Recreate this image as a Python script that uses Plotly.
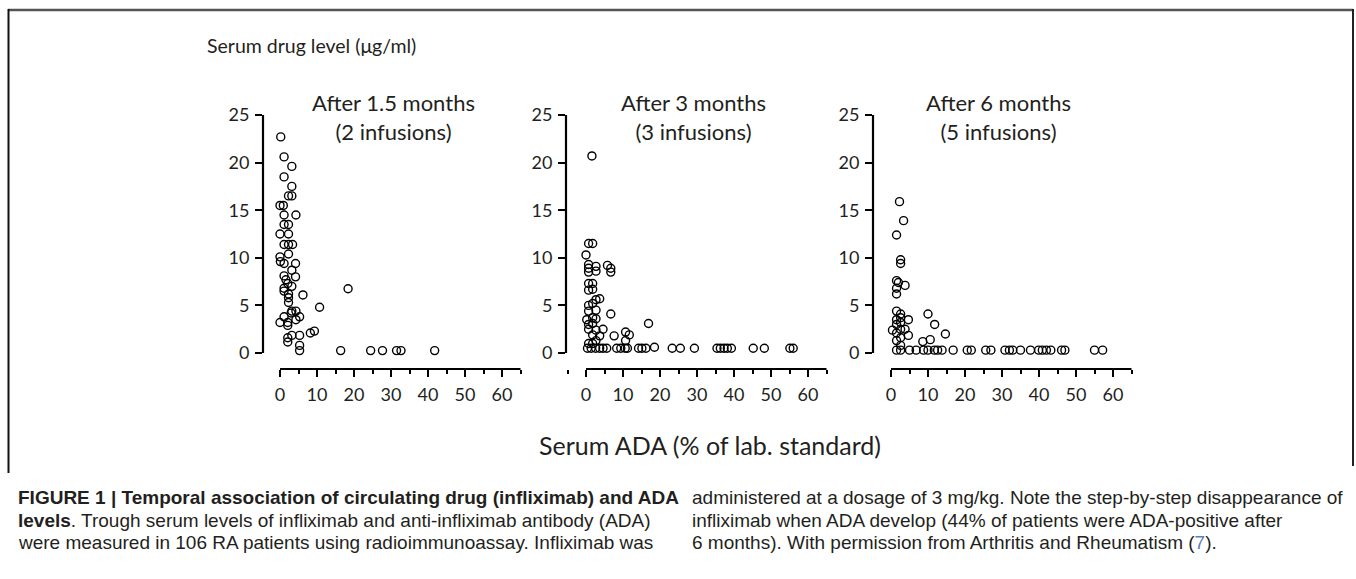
import plotly.graph_objects as go

W, H = 1356, 579

# ---------------- data ----------------
panel_titles = ["After 1.5 months<br>(2 infusions)", "After 3 months<br>(3 infusions)", "After 6 months<br>(5 infusions)"]

ada_1 = [0.2, 1.1, 3.2, 1.1, 3.2, 2.3, 3.2, 0.0, 0.9, 1.1, 4.3, 1.1, 2.3, 0.0, 2.3, 1.1, 2.3, 3.4,
         2.3, 0.0, 0.1, 1.1, 4.2, 3.2, 1.1, 4.2, 2.1, 3.2, 1.1, 1.1, 2.3, 6.2, 2.3, 3.2, 4.3, 5.3,
         4.3, 1.1, 0.0, 2.1, 2.1, 3.2, 5.3, 2.1, 2.1, 5.3, 5.3, 8.2, 9.3, 10.7, 18.4, 16.4, 24.5,
         27.7, 31.5, 32.7, 41.8, 2.3, 1.6, 3.0]
drug_1 = [22.7, 20.6, 19.6, 18.5, 17.5, 16.5, 16.5, 15.5, 15.5, 14.5, 14.5, 13.5, 13.5, 12.5, 12.5,
          11.4, 11.4, 11.4, 10.4, 10.1, 9.6, 9.4, 9.4, 8.7, 8.1, 8.0, 7.3, 7.0, 6.8, 6.5, 6.2, 6.1,
          5.3, 4.4, 4.4, 3.8, 3.5, 3.8, 3.2, 3.2, 2.9, 1.85, 1.85, 1.6, 1.15, 0.8, 0.25, 2.1, 2.3,
          4.8, 6.75, 0.25, 0.25, 0.25, 0.25, 0.25, 0.25, 5.8, 7.7, 4.2]

ada_2 = [1.6, 0.7, 1.8, 0.0, 0.7, 2.7, 0.7, 2.7, 0.7, 5.8, 6.7, 6.7, 0.7, 1.8, 0.7, 1.8, 3.7, 2.7,
         1.8, 0.7, 0.7, 2.7, 6.7, 0.2, 2.7, 1.8, 0.7, 1.8, 0.7, 2.7, 4.6, 3.7, 1.8, 7.6, 10.7, 11.7,
         10.7, 16.9, 0.7, 1.8, 2.7,
         0.4, 1.4, 2.6, 3.7, 4.6, 5.6, 8.3, 9.4, 10.6, 11.2, 14.2, 15.1, 16.2, 18.5, 23.3, 25.5,
         29.3, 35.4, 36.3, 37.3, 38.2, 39.3, 45.2, 48.2, 55.1, 56.0]
drug_2 = [20.7, 11.5, 11.5, 10.3, 9.3, 9.1, 8.9, 8.6, 8.5, 9.2, 8.9, 8.5, 7.3, 7.3, 6.6, 6.7, 5.7, 5.6,
          5.2, 5.0, 4.4, 4.5, 4.1, 3.5, 3.6, 3.7, 3.0, 3.1, 2.5, 2.4, 2.5, 1.8, 1.9, 1.8, 2.2, 1.9,
          1.3, 3.1, 1.0, 1.0, 1.3,
          0.5, 0.5, 0.5, 0.5, 0.5, 0.5, 0.5, 0.5, 0.5, 0.5, 0.5, 0.5, 0.5, 0.6, 0.5, 0.5,
          0.5, 0.5, 0.5, 0.5, 0.5, 0.5, 0.5, 0.5, 0.5, 0.5]

ada_3 = [2.3, 3.4, 1.5, 2.6, 2.6, 1.5, 2.0, 3.8, 1.5, 1.5, 1.5, 2.6, 2.6, 1.5, 4.7, 10.0, 11.8, 14.7,
         0.4, 1.5, 2.6, 3.8, 4.7, 2.6, 1.5, 2.6, 8.6, 10.6, 1.5, 2.6,
         1.5, 2.6, 5.0, 6.8, 8.8, 10.0, 11.7, 12.6, 13.8, 16.8, 20.6, 21.7, 25.6, 27.0, 30.8, 32.0,
         32.9, 35.0, 37.7, 39.9, 40.9, 42.0, 43.2, 46.1, 47.0, 55.0, 57.2]
drug_3 = [15.9, 13.9, 12.4, 9.8, 9.4, 7.6, 7.4, 7.1, 6.8, 6.2, 4.4, 4.1, 3.7, 3.5, 3.5, 4.1, 3.0, 2.0,
          2.4, 2.1, 2.5, 2.5, 1.85, 1.6, 1.3, 0.8, 1.2, 1.4, 3.0, 3.2,
          0.3, 0.3, 0.3, 0.3, 0.3, 0.3, 0.3, 0.3, 0.3, 0.3, 0.3, 0.3, 0.3, 0.3, 0.3, 0.3,
          0.3, 0.3, 0.3, 0.3, 0.3, 0.3, 0.3, 0.3, 0.3, 0.3, 0.3]

x_ticks = [0, 10, 20, 30, 40, 50, 60]
y_ticks = [0, 5, 10, 15, 20, 25]

y_title = "Serum drug level (μg/ml)"
x_title = "Serum ADA (% of lab. standard)"

caption_left = [
    "<b>FIGURE 1 | Temporal association of circulating drug (infliximab) and ADA</b>",
    "<b>levels</b>. Trough serum levels of infliximab and anti-infliximab antibody (ADA)",
    "were measured in 106 RA patients using radioimmunoassay. Infliximab was",
]
caption_right = [
    "administered at a dosage of 3 mg/kg. Note the step-by-step disappearance of",
    "infliximab when ADA develop (44% of patients were ADA-positive after",
    "6 months). With permission from Arthritis and Rheumatism (<span style='color:#5b7fb8'>7</span>).",
]

# ---------------- layout geometry (reference pixels) ----------------
FONT = "Lato, 'Open Sans', sans-serif"
CAP_FONT = "'Liberation Sans', Arial, sans-serif"
TXT = "#231f20"

def xp(px):
    return px / W

def yp(py):
    return 1 - py / H

s = 3.7          # px per ADA unit
y0_px, y25_px = 353, 115
xline_px = 369
py_per = (y0_px - y25_px) / 25.0
y_bottom = -(xline_px - y0_px) / py_per
x_end = 66

axis_left = [263, 566, 873]
x_zero = [280, 586, 891]
title_cx = [393, 693, 998]

fig = go.Figure()
datasets = [(ada_1, drug_1), (ada_2, drug_2), (ada_3, drug_3)]
for i, (xs, ys) in enumerate(datasets):
    sfx = "" if i == 0 else str(i + 1)
    fig.add_trace(go.Scatter(
        x=xs, y=ys, mode="markers", xaxis="x" + sfx, yaxis="y" + sfx,
        marker=dict(symbol="circle-open", size=8, color="black", line=dict(width=1.4, color="black")),
        showlegend=False, hoverinfo="x+y",
    ))
    x_start = -(x_zero[i] - axis_left[i]) / s
    right_px = x_zero[i] + x_end * s
    fig.layout["xaxis" + sfx] = dict(
        domain=[xp(axis_left[i]), xp(right_px)], range=[x_start, x_end], automargin=False,
        anchor="y" + sfx, showgrid=False, zeroline=False, showline=False,
        tickmode="array", tickvals=x_ticks, ticks="outside", ticklen=7, tickwidth=2, tickcolor="black",
        minor=dict(tickmode="linear", tick0=5, dtick=10, ticks="outside", ticklen=4, tickwidth=2, tickcolor="black"),
        tickfont=dict(family=FONT, size=18, color=TXT), ticklabelstandoff=2, fixedrange=True,
    )
    fig.layout["yaxis" + sfx] = dict(
        domain=[yp(xline_px), yp(y25_px)], range=[y_bottom, 25], automargin=False,
        anchor="x" + sfx, showgrid=False, zeroline=False, showline=False,
        tickmode="array", tickvals=y_ticks, ticks="outside", ticklen=7, tickwidth=2, tickcolor="black",
        tickfont=dict(family=FONT, size=18, color=TXT), ticklabelstandoff=2, fixedrange=True,
    )
    # detached axis lines
    fig.add_shape(type="line", xref="x" + sfx + " domain", yref="y" + sfx,
                  x0=0, x1=0, y0=0, y1=25, line=dict(color="black", width=2.2))
    fig.add_shape(type="line", xref="x" + sfx, yref="y" + sfx + " domain",
                  x0=0, x1=65, y0=0, y1=0, line=dict(color="black", width=2.2))
    fig.add_annotation(x=xp(title_cx[i]), y=yp(117), xref="paper", yref="paper",
                       text=panel_titles[i], showarrow=False, xanchor="center", yanchor="middle",
                       align="center", font=dict(family=FONT, size=22, color=TXT))

# axis titles
fig.add_annotation(x=xp(205), y=yp(45), xref="paper", yref="paper", text=y_title, showarrow=False,
                   xanchor="left", yanchor="middle", font=dict(family=FONT, size=19.5, color=TXT))
fig.add_annotation(x=xp(710), y=yp(445), xref="paper", yref="paper", text=x_title, showarrow=False,
                   xanchor="center", yanchor="middle", font=dict(family=FONT, size=25, color=TXT))

# caption
line_y = [497, 520, 542]
for t, yy in zip(caption_left, line_y):
    fig.add_annotation(x=xp(16), y=yp(yy), xref="paper", yref="paper", text=t, showarrow=False,
                       xanchor="left", yanchor="middle", font=dict(family=CAP_FONT, size=19, color=TXT))
for t, yy in zip(caption_right, line_y):
    fig.add_annotation(x=xp(690), y=yp(yy), xref="paper", yref="paper", text=t, showarrow=False,
                       xanchor="left", yanchor="middle", font=dict(family=CAP_FONT, size=19, color=TXT))

# frame (top, left, right)
fig.add_shape(type="line", xref="paper", yref="paper", x0=xp(8), x1=xp(1353), y0=yp(10), y1=yp(10),
              line=dict(color="#555555", width=2.5), layer="above")
fig.add_shape(type="line", xref="paper", yref="paper", x0=xp(8.5), x1=xp(8.5), y0=yp(9), y1=yp(473),
              line=dict(color="#111111", width=2), layer="above")
fig.add_shape(type="line", xref="paper", yref="paper", x0=xp(1353), x1=xp(1353), y0=yp(9), y1=yp(466),
              line=dict(color="#222222", width=2), layer="above")

fig.update_layout(
    width=W, height=H, margin=dict(l=0, r=0, t=0, b=0, pad=0, autoexpand=False),
    paper_bgcolor="white", plot_bgcolor="white", showlegend=False,
)

fig.write_html("out.html", config={"displayModeBar": False},
               post_script="document.body.style.margin='0';document.body.style.overflow='hidden';")
